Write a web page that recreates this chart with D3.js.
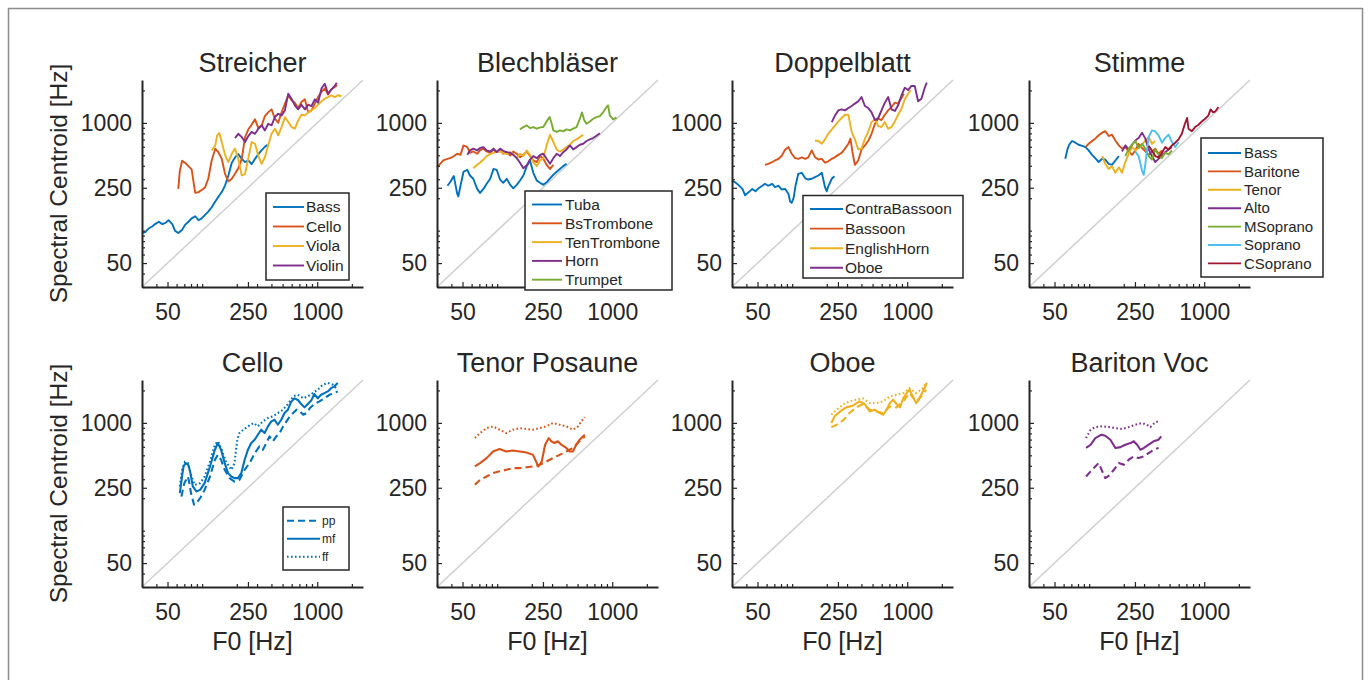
<!DOCTYPE html>
<html>
<head>
  <meta charset="utf-8"/>
  <title>Spectral Centroid vs F0</title>
  <script src="https://d3js.org/d3.v7.min.js"></script>
  <style>
    body { margin: 0; background: #fff; }
    text { font-family: "Liberation Sans", Arial, Helvetica, sans-serif; fill: #262626; }
  </style>
</head>
<body>
<div id="chart"></div>
<script>
// axis settings (Hz, log scale)
var domainHz = [30, 2500];
var majorTicks = [50, 250, 1000];
var minorTicks = [30, 40, 60, 70, 80, 90, 100, 200, 300, 400, 500, 600, 700, 800, 900, 2000];

var panelTitles = ["Streicher", "Blechbläser", "Doppelblatt", "Stimme", "Cello", "Tenor Posaune", "Oboe", "Bariton Voc"];
var streicherNames = ["Bass", "Cello", "Viola", "Violin"];
var brassNames = ["Tuba", "BsTrombone", "TenTrombone", "Horn", "Trumpet"];
var reedNames = ["ContraBassoon", "Bassoon", "EnglishHorn", "Oboe"];
var voiceNames = ["Bass", "Baritone", "Tenor", "Alto", "MSoprano", "Soprano", "CSoprano"];
var dynamicNames = ["pp", "mf", "ff"];

// [F0 Hz, spectral centroid Hz]
var streicherBass = [[30,95],[32,97],[34,104],[37,110],[39,115],[42,121],[45,115],[48,118],[51,125],[55,115],[58,100],[62,95],[67,102],[71,113],[76,121],[81,130],[87,136],[93,125],[99,130],[106,140],[113,150],[121,165],[130,186],[138,205],[148,228],[158,262],[169,325],[181,427],[193,478],[206,513],[221,464],[236,433],[252,448],[269,414],[288,464],[308,513],[329,559],[351,600],[370,627]];
var streicherCello = [[62,244],[64,362],[67,445],[71,427],[76,397],[81,370],[87,224],[93,228],[99,238],[106,252],[113,303],[121,448],[130,575],[138,537],[148,464],[158,337],[169,286],[181,303],[193,337],[206,380],[221,464],[236,738],[252,872],[269,961],[288,1078],[308,894],[329,948],[351,1157],[375,1252],[401,1335],[429,1093],[458,1004],[490,1252],[524,1500],[560,1800],[598,1620],[639,1540],[683,1373],[730,1560],[781,1654],[834,1252],[892,1306],[953,1510],[1018,1737],[1089,1938],[1163,2087],[1243,1830],[1329,2048],[1420,2150],[1490,2240]];
var streicherViola = [[121,555],[130,618],[135,767],[141,806],[148,665],[158,505],[169,433],[181,517],[193,577],[206,464],[221,325],[236,337],[252,471],[269,665],[288,640],[308,492],[329,417],[351,481],[375,618],[401,792],[429,883],[458,767],[490,915],[524,1133],[560,1018],[598,915],[639,883],[683,1054],[730,1190],[781,1173],[834,1252],[892,1306],[953,1373],[1018,1475],[1089,1584],[1163,1677],[1243,1737],[1329,1804],[1420,1737],[1518,1804],[1622,1768]];
var streicherViolin = [[193,723],[206,792],[221,738],[236,665],[252,755],[269,824],[288,792],[308,883],[329,948],[351,851],[375,982],[401,948],[429,1133],[458,1216],[490,1173],[524,1306],[560,1866],[598,1677],[639,1455],[683,1335],[730,1475],[781,1335],[834,1475],[892,1434],[953,1654],[1018,1540],[1089,2087],[1163,2311],[1243,1866],[1329,2048],[1420,2200],[1480,2360]];

var brassTuba = [[37,261],[39,281],[42,321],[45,219],[46,208],[48,261],[51,352],[55,367],[58,325],[62,303],[67,244],[71,224],[76,244],[81,272],[87,303],[93,374],[99,367],[106,298],[113,278],[121,303],[130,266],[138,247],[148,266],[158,292],[169,325],[181,397],[193,448],[206,344],[221,292],[236,278],[252,266],[269,281],[288,306],[308,330],[329,352],[351,374],[375,397],[401,417]];
var brassBsTrombone = [[30,387],[32,417],[34,448],[37,464],[39,471],[42,490],[45,517],[48,505],[51,618],[55,596],[58,527],[62,543],[67,517],[71,555],[76,577],[81,543],[87,527],[93,567],[99,535],[106,555],[113,517],[121,535],[130,498],[138,543],[148,517],[158,481],[169,505],[181,543],[193,492],[206,448],[221,433],[236,492],[252,464],[269,408],[288,374],[308,408]];
var brassTenTrombone = [[62,380],[67,408],[71,427],[76,457],[81,492],[87,513],[93,527],[99,535],[106,543],[113,527],[121,513],[130,535],[138,513],[148,471],[158,517],[169,492],[181,555],[193,505],[206,433],[221,397],[236,448],[252,471],[269,618],[288,777],[308,665],[329,567],[351,543],[375,567],[401,596],[429,627],[458,679],[490,703],[524,738],[560,777]];
var brassHorn = [[55,505],[58,555],[62,577],[67,555],[71,585],[76,596],[81,555],[87,543],[93,577],[99,535],[106,577],[113,551],[121,535],[130,527],[138,505],[148,471],[158,427],[169,380],[181,404],[193,457],[206,492],[221,471],[236,505],[252,517],[269,464],[288,417],[308,471],[329,517],[351,492],[375,535],[401,567],[429,618],[458,567],[490,596],[524,627],[560,640],[598,679],[639,703],[683,723],[730,760],[781,800]];
var brassTrumpet = [[158,870],[169,915],[181,948],[193,894],[206,915],[221,883],[236,908],[252,915],[269,1032],[286,1133],[298,982],[308,851],[329,824],[351,851],[375,834],[401,870],[429,851],[458,883],[490,915],[524,1093],[546,1252],[570,1062],[598,982],[639,1032],[683,1093],[730,1133],[781,1157],[834,1252],[892,1403],[920,1455],[953,1173],[1018,1078],[1089,1120]];

var reedContraBassoon = [[30,292],[32,281],[34,266],[37,244],[39,213],[42,228],[45,244],[48,232],[51,247],[55,261],[58,272],[62,261],[67,272],[71,253],[76,261],[81,241],[87,244],[93,219],[96,186],[99,181],[103,201],[107,261],[113,337],[121,344],[130,306],[138,298],[148,303],[158,314],[169,325],[181,344],[193,253],[200,232],[206,258],[221,303],[233,320]];
var reedBassoon = [[58,408],[62,417],[67,433],[71,448],[76,464],[81,492],[87,567],[93,596],[99,517],[106,471],[113,464],[121,478],[130,464],[138,478],[148,555],[158,481],[169,457],[181,464],[193,427],[206,440],[221,464],[236,481],[252,505],[269,527],[288,577],[308,640],[321,714],[334,537],[351,408],[375,448],[401,567],[429,618],[458,679],[490,792],[524,982],[560,1093],[598,1062],[639,1190],[683,1306],[730,1403],[781,1540],[834,1510],[892,1704],[935,1866]];
var reedEnglishHorn = [[158,687],[169,679],[181,640],[193,703],[206,792],[221,870],[236,948],[252,1032],[269,1110],[288,1190],[308,1190],[329,824],[351,703],[375,567],[401,577],[429,714],[458,824],[490,1018],[524,1078],[560,934],[598,915],[639,1018],[683,883],[730,915],[781,1032],[834,1190],[892,1360],[953,1654],[1018,1866],[1075,2020]];
var reedOboe = [[221,1018],[236,1173],[252,1306],[269,1335],[288,1306],[308,1373],[329,1434],[351,1510],[375,1584],[401,1737],[429,1434],[458,1373],[490,1252],[524,1062],[560,1110],[598,1306],[639,1540],[683,1737],[730,1335],[781,1290],[834,1455],[892,1804],[953,2120],[1018,2018],[1089,2200],[1163,2200],[1243,1584],[1329,1677],[1420,2120],[1480,2360]];

var voiceBass = [[62,464],[65,577],[67,627],[71,679],[76,655],[81,627],[87,612],[93,596],[99,555],[106,505],[113,471],[121,433],[130,464],[138,457],[148,417],[158,408],[169,448],[181,492]];
var voiceBaritone = [[93,596],[99,640],[106,679],[113,714],[121,767],[130,812],[138,838],[148,755],[158,777],[169,687],[181,618],[193,577],[206,596],[221,543],[236,505],[252,555],[269,640],[288,585],[308,543],[329,505],[351,543],[375,577],[401,517],[429,555]];
var voiceTenor = [[130,492],[138,417],[148,374],[158,397],[169,344],[181,387],[193,344],[206,433],[221,517],[236,596],[252,555],[269,585],[288,627],[308,687],[329,738],[351,640],[375,679]];
var voiceAlto = [[193,543],[206,618],[221,567],[236,627],[252,687],[269,723],[288,812],[308,714],[329,567],[351,492],[375,433],[401,464],[429,492],[458,535],[490,567],[524,596]];
var voiceMSoprano = [[206,492],[221,577],[236,627],[252,679],[269,585],[288,640],[308,577],[329,492],[351,457],[375,567],[401,505],[429,471],[458,527],[490,510],[524,555]];
var voiceSoprano = [[252,543],[269,492],[288,361],[298,330],[308,417],[329,738],[351,851],[375,834],[401,767],[429,655],[458,723],[490,777],[524,665],[560,596],[598,665]];
var voiceCSoprano = [[329,612],[351,555],[375,492],[401,478],[429,527],[458,596],[490,567],[524,618],[560,655],[598,703],[639,792],[675,961],[710,1110],[730,883],[781,838],[834,915],[892,961],[953,1032],[1018,1093],[1089,1173],[1136,1335],[1195,1252],[1243,1270],[1329,1403]];

var celloPp = [[66,207],[70,276],[75,318],[77,285],[80,223],[85,174],[89,180],[96,200],[105,239],[117,318],[129,455],[137,505],[146,455],[157,367],[173,307],[191,285],[211,296],[234,367],[263,437],[286,523],[315,605],[337,563],[361,650],[385,749],[412,675],[441,749],[472,805],[505,928],[540,1032],[578,1150],[618,1234],[661,1326],[707,1278],[756,1190],[808,1234],[864,1375],[946,1497],[1046,1584],[1155,1690],[1277,1823],[1410,1890],[1508,1960]];
var celloMf = [[64,223],[67,325],[69,397],[72,424],[76,404],[79,342],[83,257],[89,231],[96,239],[105,276],[117,394],[129,563],[137,650],[146,563],[157,424],[168,342],[179,318],[191,307],[205,307],[219,342],[234,455],[250,563],[267,650],[286,698],[305,777],[326,864],[349,805],[373,928],[399,1032],[426,1070],[455,961],[487,1070],[520,1234],[556,1326],[594,1572],[635,1690],[679,1630],[725,1497],[775,1393],[829,1497],[886,1610],[946,1853],[1011,1690],[1081,1823],[1155,1890],[1235,1960],[1320,2100],[1411,2185],[1508,2345]];
var celloFf = [[64,257],[67,367],[71,437],[75,424],[81,318],[86,266],[96,276],[105,318],[117,437],[129,627],[137,675],[146,585],[161,437],[180,367],[191,424],[202,698],[211,805],[228,864],[250,928],[281,997],[305,928],[337,1032],[372,1110],[412,1150],[455,1234],[505,1326],[556,1497],[618,1763],[679,1823],[756,1690],[830,1763],[916,1890],[1011,2030],[1117,2260],[1235,2345],[1368,2260],[1460,2100]];

var tromPp = [[64,266],[71,296],[81,318],[92,342],[105,355],[120,367],[137,380],[157,380],[180,388],[205,394],[234,408],[267,437],[305,471],[349,505],[399,543],[455,585],[520,675],[578,749]];
var tromMf = [[64,394],[71,424],[81,471],[92,543],[105,571],[120,543],[137,555],[157,543],[180,532],[205,505],[228,394],[244,437],[261,627],[281,723],[295,675],[315,650],[337,675],[361,627],[399,585],[426,543],[455,543],[487,627],[520,698],[578,777]];
var tromFf = [[64,723],[71,805],[81,894],[92,928],[105,864],[120,805],[137,864],[157,894],[180,876],[205,864],[234,894],[267,928],[305,997],[349,961],[399,928],[455,864],[505,928],[540,1032],[578,1133]];

var oboePp = [[219,914],[244,961],[281,1070],[315,1234],[361,1393],[412,1497],[472,1326],[540,1278],[618,1234],[707,1420],[808,1393],[924,1584],[1046,1890],[1195,1584],[1368,1823],[1460,2030]];
var oboeMf = [[219,997],[234,1150],[261,1278],[295,1393],[337,1445],[385,1584],[426,1497],[472,1278],[520,1326],[578,1234],[618,1190],[661,1326],[707,1528],[756,1640],[808,1497],[864,1393],[924,1690],[988,1890],[1046,2030],[1117,1763],[1195,1528],[1260,1640],[1346,1890],[1440,2185],[1480,2360]];
var oboeFf = [[219,1190],[244,1326],[281,1497],[315,1584],[361,1640],[412,1690],[472,1528],[540,1528],[618,1584],[707,1763],[808,1823],[924,1890],[1046,2100],[1195,1890],[1368,2100],[1460,2345]];

var baritonPp = [[94,318],[103,355],[113,394],[121,424],[130,355],[138,307],[148,322],[164,367],[181,424],[200,408],[221,455],[244,488],[269,471],[299,488],[329,523],[363,563],[401,585]];
var baritonMf = [[94,585],[103,627],[113,723],[128,777],[138,760],[153,698],[169,585],[187,596],[206,627],[229,650],[244,675],[261,627],[279,563],[299,585],[329,627],[363,675],[401,698],[423,749]];
var baritonFf = [[94,723],[103,864],[113,914],[130,928],[148,914],[169,894],[193,876],[221,914],[252,961],[288,997],[318,961],[340,914],[375,1010],[413,1054]];

// MATLAB default line colours
var colors = ["#0072BD", "#D95319", "#EDB120", "#7E2F8E", "#77AC30", "#4DBEEE", "#A2142F"];
var dashes = [ "7,4", null, "1.6,2.4" ];

// layout
var colX = [142, 437, 732, 1029];
var rowY = [80, 380];
var plotW = 221, plotH = 207;

var svg = d3.select("#chart").append("svg")
    .attr("width", 1370)
    .attr("height", 680);

svg.append("rect")
    .attr("x", 8.5).attr("y", 8.5)
    .attr("width", 1354).attr("height", 700)
    .attr("fill", "none")
    .attr("stroke", "#8c8c8c")
    .attr("stroke-width", 1.5);

function multi(list, names) {
  return list.map(function(d, i) {
    return { data: d, name: names[i], color: colors[i], dash: null, width: 1.9 };
  });
}
function dyn(list, color) {
  return list.map(function(d, i) {
    return { data: d, name: dynamicNames[i], color: color, dash: dashes[i], width: 2.1 };
  });
}

var panels = [
  { col: 0, row: 0, series: multi([streicherBass, streicherCello, streicherViola, streicherViolin], streicherNames),
    legend: { x: 124, y: 113, w: 83, h: 87, first: 127, step: 19.5, l1: 131, l2: 162, tx: 164, fs: 15.5 } },
  { col: 1, row: 0, series: multi([brassTuba, brassBsTrombone, brassTenTrombone, brassHorn, brassTrumpet], brassNames),
    legend: { x: 88, y: 111, w: 147, h: 99, first: 124.5, step: 18.8, l1: 95, l2: 125, tx: 128, fs: 15.5 } },
  { col: 2, row: 0, series: multi([reedContraBassoon, reedBassoon, reedEnglishHorn, reedOboe], reedNames),
    legend: { x: 71, y: 115.5, w: 160, h: 82.5, first: 129, step: 19.6, l1: 78, l2: 111, tx: 113, fs: 15.5 } },
  { col: 3, row: 0, series: multi([voiceBass, voiceBaritone, voiceTenor, voiceAlto, voiceMSoprano, voiceSoprano, voiceCSoprano], voiceNames),
    legend: { x: 172, y: 58, w: 122, h: 139, first: 73, step: 18.4, l1: 179, l2: 212, tx: 215, fs: 15 } },
  { col: 0, row: 1, series: dyn([celloPp, celloMf, celloFf], colors[0]),
    legend: { x: 141, y: 127, w: 66, h: 63, first: 140.7, step: 18, l1: 145, l2: 178, tx: 180, fs: 12 } },
  { col: 1, row: 1, series: dyn([tromPp, tromMf, tromFf], colors[1]) },
  { col: 2, row: 1, series: dyn([oboePp, oboeMf, oboeFf], colors[2]) },
  { col: 3, row: 1, series: dyn([baritonPp, baritonMf, baritonFf], colors[3]) }
];

panels.forEach(function(p, idx) {
  var g = svg.append("g")
      .attr("transform", "translate(" + colX[p.col] + "," + rowY[p.row] + ")");

  var x = d3.scaleLog().domain(domainHz).range([0, plotW]);
  var y = d3.scaleLog().domain(domainHz).range([plotH, 0]);

  // identity line
  g.append("line")
      .attr("x1", x(domainHz[0])).attr("y1", y(domainHz[0]))
      .attr("x2", x(domainHz[1])).attr("y2", y(domainHz[1]))
      .attr("stroke", "#cfcfcf")
      .attr("stroke-width", 1.5);

  var line = d3.line()
      .x(function(d) { return x(d[0]); })
      .y(function(d) { return y(d[1]); });

  g.selectAll("path.series")
    .data(p.series)
    .enter()
    .append("path")
      .attr("class", "series")
      .attr("d", function(s) { return line(s.data); })
      .attr("fill", "none")
      .attr("stroke", function(s) { return s.color; })
      .attr("stroke-width", function(s) { return s.width; })
      .attr("stroke-dasharray", function(s) { return s.dash; })
      .attr("stroke-linejoin", "round");

  // minor ticks (inward)
  var xMinor = g.append("g").attr("transform", "translate(0," + plotH + ")")
      .call(d3.axisBottom(x).tickValues(minorTicks).tickSize(-3).tickSizeOuter(0).tickFormat(""));
  var yMinor = g.append("g")
      .call(d3.axisLeft(y).tickValues(minorTicks).tickSize(-3).tickSizeOuter(0).tickFormat(""));
  [xMinor, yMinor].forEach(function(a) {
    a.select(".domain").remove();
    a.selectAll("line").attr("stroke", "#262626").attr("stroke-width", 1.2);
  });

  // major ticks + labels
  var xAxis = g.append("g").attr("transform", "translate(0," + plotH + ")")
      .call(d3.axisBottom(x).tickValues(majorTicks).tickFormat(d3.format("d"))
            .tickSize(-5).tickSizeOuter(0).tickPadding(17));
  var yAxis = g.append("g")
      .call(d3.axisLeft(y).tickValues(majorTicks).tickFormat(d3.format("d"))
            .tickSize(-5).tickSizeOuter(0).tickPadding(10));
  [xAxis, yAxis].forEach(function(a) {
    a.select(".domain").attr("stroke", "#262626").attr("stroke-width", 2);
    a.selectAll("line").attr("stroke", "#262626").attr("stroke-width", 1.2);
    a.selectAll("text").attr("font-size", 23).attr("fill", "#262626")
      .attr("font-family", "'Liberation Sans', Arial, sans-serif");
  });

  // title
  g.append("text")
      .attr("x", plotW / 2)
      .attr("y", -8)
      .attr("text-anchor", "middle")
      .attr("font-size", 27)
      .text(panelTitles[idx]);

  if (p.col === 0) {
    g.append("text")
        .attr("transform", "translate(" + (67 - colX[0]) + "," + (plotH / 2) + ") rotate(-90)")
        .attr("text-anchor", "middle")
        .attr("font-size", 24.5)
        .text("Spectral Centroid [Hz]");
  }
  if (p.row === 1) {
    g.append("text")
        .attr("x", plotW / 2)
        .attr("y", plotH + 63)
        .attr("text-anchor", "middle")
        .attr("font-size", 25)
        .text("F0 [Hz]");
  }

  if (p.legend) {
    var L = p.legend;
    var lg = g.append("g");
    lg.append("rect")
        .attr("x", L.x).attr("y", L.y)
        .attr("width", L.w).attr("height", L.h)
        .attr("fill", "#fff")
        .attr("stroke", "#262626")
        .attr("stroke-width", 1.5);
    var item = lg.selectAll("g.item")
      .data(p.series)
      .enter()
      .append("g")
        .attr("class", "item")
        .attr("transform", function(s, i) { return "translate(0," + (L.first + i * L.step) + ")"; });
    item.append("line")
        .attr("x1", L.l1).attr("x2", L.l2)
        .attr("stroke", function(s) { return s.color; })
        .attr("stroke-width", function(s) { return s.width; })
        .attr("stroke-dasharray", function(s) { return s.dash; });
    item.append("text")
        .attr("x", L.tx)
        .attr("dy", "0.35em")
        .attr("font-size", L.fs)
        .text(function(s) { return s.name; });
  }
});
</script>
</body>
</html>
